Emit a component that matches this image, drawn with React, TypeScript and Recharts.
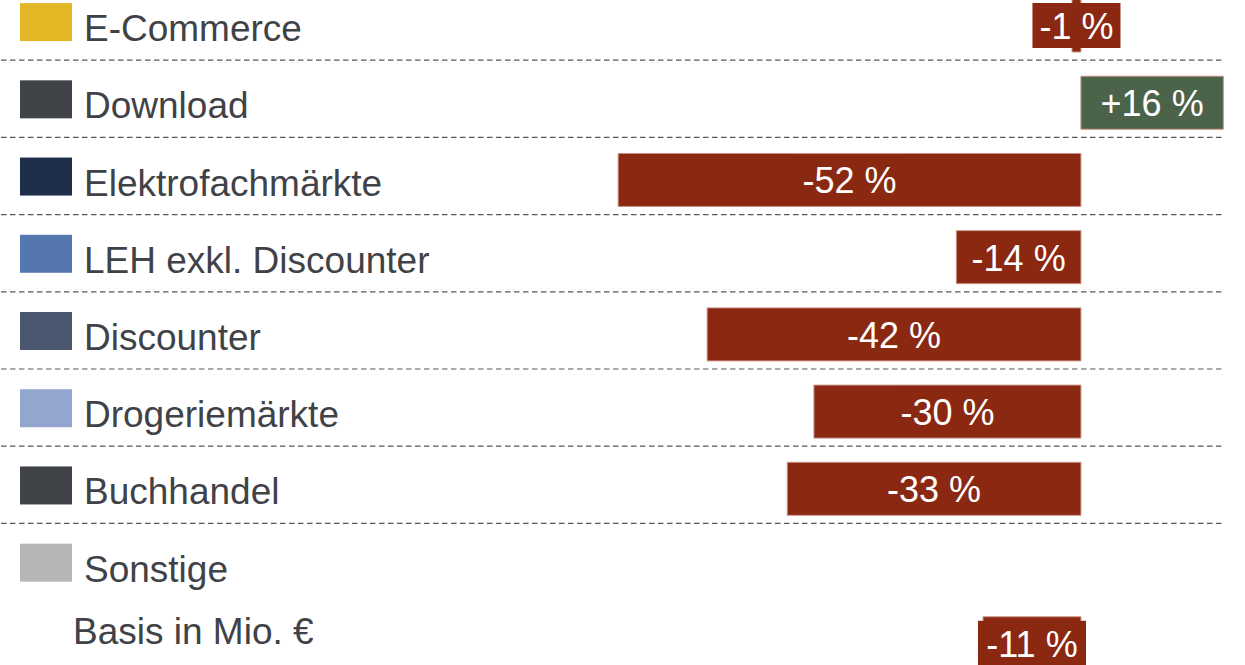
import React from "react";
import { BarChart, Bar, XAxis, YAxis, Cell, LabelList, ReferenceLine } from "recharts";

// Distribution channels (legend rows) and change vs. prior year in %
const categories = [
  "E-Commerce",
  "Download",
  "Elektrofachmärkte",
  "LEH exkl. Discounter",
  "Discounter",
  "Drogeriemärkte",
  "Buchhandel",
  "Sonstige",
  "Basis in Mio. €",
];
const changes: (number | null)[] = [-1, 16, -52, -14, -42, -30, -33, null, -11];
const swatches: (string | null)[] = [
  "#e2b624",
  "#404348",
  "#1f2e4b",
  "#5577b0",
  "#4b566f",
  "#93a6cf",
  "#404348",
  "#b5b6b8",
  null,
];

const data = categories.map((name, i) => ({ name, change: changes[i], swatch: swatches[i] }));

const RED = "#8a2812";
const GREEN = "#4b6349";
const TEXT = "#3f4247";
const FONT = "'Liberation Sans', Arial, sans-serif";

const ROW = 77.2;
const WIDTH = 1245;
const HEIGHT = Math.round(ROW * categories.length);
const X_MIN = -121.35;
const X_MAX = 18.1;

// a dashed separator below each of the first seven rows
const separatorRows = categories.slice(0, 7);

// rough Arial advance widths, used to size the label box
const charW: Record<string, number> = { "-": 0.333, "+": 0.584, " ": 0.278, "%": 0.889 };
const textWidth = (s: string, size: number) =>
  s.split("").reduce((t, c) => t + (charW[c] ?? 0.556), 0) * size;

const fmt = (v: number) => (v > 0 ? "+" : "") + v + " %";

function ChangeLabel(props: any) {
  const { x, y, width, height, value } = props;
  if (value == null) return null;
  const left = Math.min(x, x + width);
  const cx = left + Math.abs(width) / 2;
  const cy = y + height / 2;
  const text = fmt(value);
  const bw = textWidth(text, 36) + 14;
  const bh = 45;
  return (
    <g>
      <rect x={cx - bw / 2} y={cy - bh / 2} width={bw} height={bh} fill={value > 0 ? GREEN : RED} />
      <text x={cx} y={cy + 13.5} textAnchor="middle" fill="#fff" fontSize={36} fontFamily={FONT}>
        {text}
      </text>
    </g>
  );
}

function LegendTick(props: any) {
  const { y, payload } = props;
  const row = data.find((d) => d.name === payload.value);
  if (!row) return null;
  if (!row.swatch) {
    return (
      <text x={73} y={y + 1} fill={TEXT} fontSize={37} fontFamily={FONT}>
        {row.name}
      </text>
    );
  }
  return (
    <g>
      <rect x={20} y={y - 22.5} width={52} height={38} fill={row.swatch} />
      <text x={84} y={y + 15.5} fill={TEXT} fontSize={37} fontFamily={FONT}>
        {row.name}
      </text>
    </g>
  );
}

// separator drawn a little below the row centre
function Separator(props: any) {
  const { x1, x2, y1 } = props;
  const y = y1 + 34.5;
  return <line x1={x1} x2={x2} y1={y} y2={y} stroke="#55585c" strokeWidth={1.2} strokeDasharray="5.5 3.5" />;
}

export default function App() {
  return (
    <div style={{ position: "absolute", left: 0, top: 0, width: WIDTH, height: 665, overflow: "hidden", background: "#fff" }}>
      <div style={{ marginTop: -13 }}>
        <BarChart
          width={WIDTH}
          height={HEIGHT}
          data={data}
          layout="vertical"
          margin={{ top: 0, right: 3, bottom: 0, left: 0 }}
        >
          <XAxis type="number" domain={[X_MIN, X_MAX]} allowDataOverflow hide />
          <YAxis
            type="category"
            dataKey="name"
            width={1}
            interval={0}
            axisLine={false}
            tickLine={false}
            tick={<LegendTick />}
          />
          {separatorRows.map((name) => (
            <ReferenceLine
              key={name}
              segment={[
                { x: X_MIN, y: name },
                { x: 15.9, y: name },
              ]}
              shape={<Separator />}
              ifOverflow="visible"
            />
          ))}
          <Bar dataKey="change" barSize={53} isAnimationActive={false} stroke="#c99385" strokeWidth={1}>
            {data.map((d) => (
              <Cell key={d.name} fill={d.change != null && d.change > 0 ? GREEN : RED} />
            ))}
            <LabelList dataKey="change" content={<ChangeLabel />} />
          </Bar>
        </BarChart>
      </div>
    </div>
  );
}
